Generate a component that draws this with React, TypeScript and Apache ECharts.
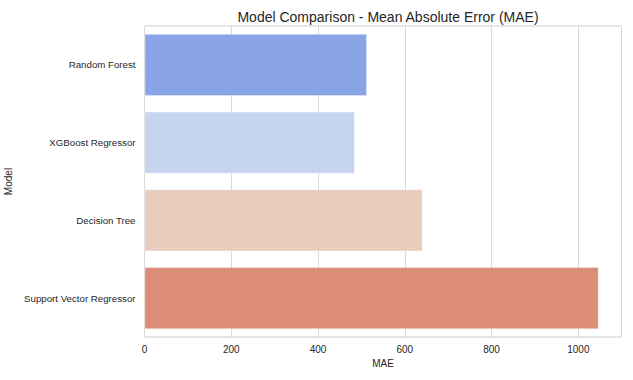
import React, { useEffect, useRef } from "react";
import * as echarts from "echarts";

const models = ["Random Forest", "XGBoost Regressor", "Decision Tree", "Support Vector Regressor"];
const maeValues = [513, 485, 641, 1047];
const barColors = ["#89a5e8", "#c6d5ef", "#e8cdbf", "#dc8d77"];
const xTicks = [0, 200, 400, 600, 800, 1000];

export default function App() {
  const ref = useRef<HTMLDivElement>(null);
  useEffect(() => {
    if (!ref.current) return;
    const chart = echarts.init(ref.current, undefined, { renderer: "svg" });
    const font = "'Liberation Sans', Arial, sans-serif";
    const textColor = "#262626";
    chart.setOption({
      animation: false,
      backgroundColor: "#ffffff",
      title: {
        text: "Model Comparison - Mean Absolute Error (MAE)",
        left: 383,
        textAlign: "center",
        top: 5,
        textStyle: { fontFamily: font, fontSize: 14, fontWeight: "normal", color: textColor },
      },
      grid: {
        left: 144.5,
        top: 26,
        width: 477,
        height: 311,
        show: true,
        borderColor: "#cccccc",
        borderWidth: 1,
        containLabel: false,
        outerBoundsMode: "none",
      },
      xAxis: {
        type: "value",
        min: 0,
        max: 1099.5,
        interval: 200,
        name: "MAE",
        nameLocation: "middle",
        nameGap: 21,
        nameTextStyle: { fontFamily: font, fontSize: 10, color: textColor },
        axisLine: { show: false },
        axisTick: { show: false },
        axisLabel: {
          margin: 7,
          fontFamily: font,
          fontSize: 10,
          color: textColor,
          showMaxLabel: false,
          formatter: (v: number) => (xTicks.includes(v) ? String(v) : ""),
        },
        splitLine: { show: true, lineStyle: { color: "#d9d9d9", width: 1 } },
      },
      yAxis: {
        type: "category",
        data: models,
        inverse: true,
        name: "Model",
        nameLocation: "middle",
        nameGap: 111,
        nameRotate: 90,
        nameTextStyle: { fontFamily: font, fontSize: 10, color: textColor },
        axisLine: { show: false },
        axisTick: { show: false },
        axisLabel: { margin: 9, fontFamily: font, fontSize: 9.7, color: textColor },
        splitLine: { show: false },
      },
      series: [
        {
          type: "bar",
          barCategoryGap: "20%",
          data: maeValues.map((v, i) => ({
            value: v,
            itemStyle: { color: barColors[i], borderColor: "rgba(255,255,255,0.35)", borderWidth: 1 },
          })),
        },
      ],
    });
    return () => chart.dispose();
  }, []);
  return <div ref={ref} style={{ position: "fixed", left: 0, top: 0, width: 633, height: 380 }} />;
}
